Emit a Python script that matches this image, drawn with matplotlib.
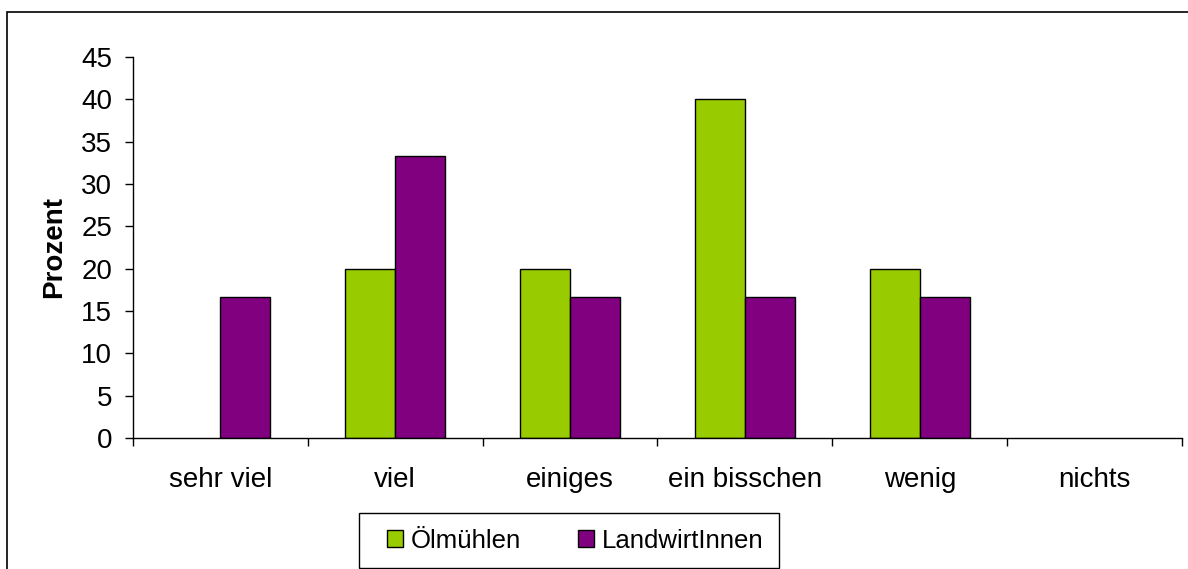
import numpy as np
import matplotlib
matplotlib.use("Agg")
from matplotlib import pyplot as plt
from matplotlib.patches import Rectangle

plt.rcParams['font.family'] = ['Liberation Sans', 'DejaVu Sans']

categories = ["sehr viel", "viel", "einiges", "ein bisschen", "wenig", "nichts"]
oelmuehlen = [0, 20, 20, 40, 20, 0]
landwirte = [16.67, 33.33, 16.67, 16.67, 16.67, 0]
series_names = ["Ölmühlen", "LandwirtInnen"]
yticks = [0, 5, 10, 15, 20, 25, 30, 35, 40, 45]

W, H = 1188, 569
fig = plt.figure(figsize=(W / 100, H / 100), dpi=100)

# outer chart frame (extends past right/bottom edge)
fig.patches.append(Rectangle((7 / W, -0.1), 1.2, 1 - 12 / H + 0.1,
                             transform=fig.transFigure, fill=False,
                             edgecolor="black", linewidth=1.2))

left, right, bottom, top = 133 / W, 1182 / W, 1 - 438 / H, 1 - 57 / H
ax = fig.add_axes([left, bottom, right - left, top - bottom])

x = np.arange(len(categories))
bw = 0.286
lw_o = [1 if v > 0 else 0 for v in oelmuehlen]
lw_l = [1 if v > 0 else 0 for v in landwirte]
ax.bar(x - bw / 2, oelmuehlen, bw, color="#99CC00", edgecolor="black",
       linewidth=lw_o, label=series_names[0])
ax.bar(x + bw / 2, landwirte, bw, color="#800080", edgecolor="black",
       linewidth=lw_l, label=series_names[1])

ax.set_xlim(-0.5, len(categories) - 0.5)
ax.set_ylim(0, 45)
ax.set_yticks(yticks)
ax.tick_params(axis="y", labelsize=20, length=6, width=1, direction="out", pad=9)

ax.set_xticks(np.arange(len(categories) + 1) - 0.5)
ax.set_xticklabels([])
ax.set_xticks(x, minor=True)
ax.set_xticklabels(categories, minor=True)
ax.tick_params(axis="x", which="major", length=6, width=1, direction="out")
ax.tick_params(axis="x", which="minor", length=0, labelsize=20, pad=21)

for s in ["top", "right"]:
    ax.spines[s].set_visible(False)
ax.spines["left"].set_linewidth(1)
ax.spines["bottom"].set_linewidth(1)

ax.set_ylabel("Prozent", fontsize=20, fontweight="bold", labelpad=10)

# legend box
lx0, ly0, lx1, ly1 = 359, 513, 779, 568
fig.patches.append(Rectangle((lx0 / W, 1 - ly1 / H), (lx1 - lx0) / W, (ly1 - ly0) / H,
                             transform=fig.transFigure, fill=False,
                             edgecolor="black", linewidth=1))
handles, labels = ax.get_legend_handles_labels()
leg = fig.legend(handles, labels, loc="center",
                 bbox_to_anchor=((lx0 + lx1) / 2 / W + 6 / W, 1 - (ly0 + ly1) / 2 / H),
                 ncol=2, fontsize=18.5, frameon=False,
                 handlelength=0.62, handleheight=0.62,
                 handletextpad=0.31, columnspacing=2.2, borderpad=0)
for h in leg.legend_handles:
    h.set_linewidth(1)

fig.savefig("out.png", dpi=100)
